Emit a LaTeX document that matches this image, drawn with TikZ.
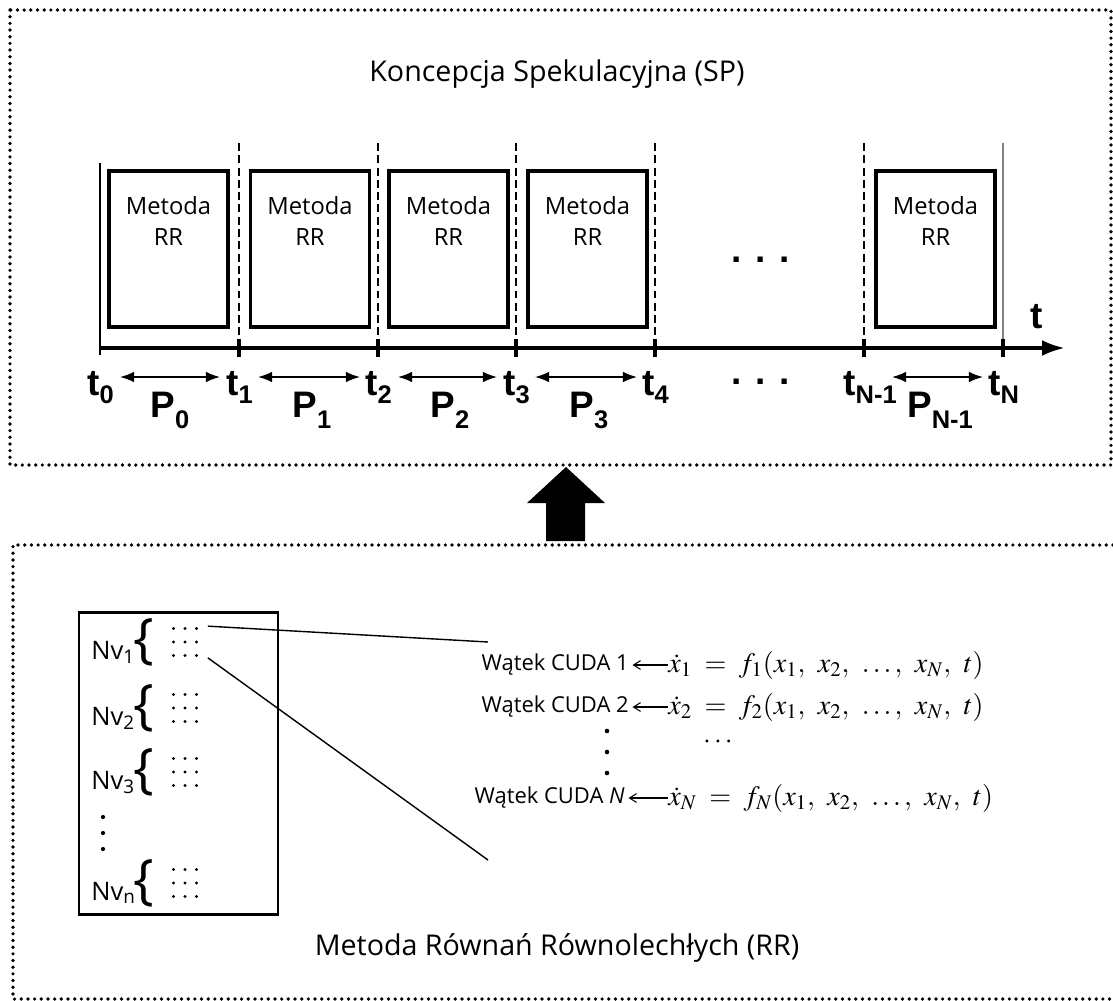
\documentclass[tikz,border=0pt]{standalone}
\usepackage{mathptmx}
\usepackage[no-math]{fontspec}
\setmainfont{Open Sans}
\newfontfamily\boldlab{Liberation Sans}
\usetikzlibrary{arrows.meta,positioning}

\newcommand{\tlab}[1]{t\raisebox{-4.7pt}{\fontsize{14.5}{14.5}\selectfont #1}}
\newcommand{\plab}[1]{P\raisebox{-6.6pt}{\fontsize{14.5}{14.5}\selectfont #1}}
\newcommand{\csep}{,\mskip 6mu}

\tikzset{
  frame/.style = {line width=2.1pt, line cap=round, dash pattern=on 0pt off 3.8pt},
  rrbox/.style = {draw, line width=2.2pt, minimum width=2.38cm, minimum height=3.12cm, inner sep=0pt},
  rrtext/.style = {align=center, font=\fontsize{13.5}{17.6}\selectfont},
  cut/.style = {dash pattern=on 4.5pt off 2.5pt, line width=0.9pt},
  tick/.style = {line width=2.2pt},
  tnode/.style = {anchor=base west, inner sep=0pt, font=\boldlab\bfseries\fontsize{21}{21}\selectfont},
  pnode/.style = {anchor=base, inner sep=0pt, font=\boldlab\bfseries\fontsize{21}{21}\selectfont},
  span/.style = {{Latex[length=8pt,width=6pt]}-{Latex[length=8pt,width=6pt]}, line width=0.9pt},
  title/.style = {font=\fontsize{16.3}{18}\selectfont},
  nvtext/.style = {anchor=base west, inner sep=0pt, font=\fontsize{14.5}{16}\selectfont},
  brace/.style = {inner sep=0pt, font=\fontsize{31}{31}\selectfont},
  grid/.style = {minimum width=0.7cm, minimum height=0.62cm, inner sep=0pt},
  cuda/.style = {anchor=east, inner sep=0pt, font=\fontsize{12.5}{14}\selectfont},
  eq/.style = {anchor=west, inner sep=0pt, font=\fontsize{16}{18}\selectfont},
  thread/.style = {-{Straight Barb[length=4pt,width=5pt]}, line width=0.6pt},
}

\begin{document}
\begin{tikzpicture}[x=0.02cm, y=-0.02cm]
  \useasboundingbox (0,0) rectangle (1113,1001);

  % ramka SP
  \draw[frame] (10,10) rectangle (1111,465);
  \node[title] (sp) at (557,74) {Koncepcja Spekulacyjna (SP)};

  % bloki metody RR
  \foreach \i/\x in {0/168.5, 1/310, 2/448.5, 3/587.5, 4/935.5} {
    \node[rrbox] (m\i) at (\x,249) {};
    \node[rrtext, below=0.42cm of m\i.north] {Metoda\\RR};
  }

  % linie podzialu
  \foreach \x in {239, 378, 516, 655, 864} {
    \draw[cut] (\x,143) -- (\x,345);
    \draw[tick] (\x,339) -- (\x,357);
  }
  \draw[line width=1.4pt] (100,163) -- (100,355);
  \draw[gray, line width=0.8pt] (1003,143) -- (1003,355);
  \draw[tick] (1003,339) -- (1003,357);

  % os czasu
  \coordinate (a0) at (100,348);
  \coordinate (a1) at (1065,348);
  \draw[line width=2.2pt, -{Latex[length=13pt,width=9pt]}] (a0) -- (a1);
  \node[tnode] (tt) at (1030,328) {t};

  \node[tnode] (t0) at (87,395) {\tlab{0}};
  \node[tnode] (t1) at (226,395) {\tlab{1}};
  \node[tnode] (t2) at (365,395) {\tlab{2}};
  \node[tnode] (t3) at (503,395) {\tlab{3}};
  \node[tnode] (t4) at (642,395) {\tlab{4}};
  \node[tnode] (tn1) at (843,395) {\tlab{N-1}};
  \node[tnode] (tn) at (988,395) {\tlab{N}};

  \node[tnode, anchor=base] (dots1) at (761,262) {. . .};
  \node[tnode, anchor=base] (dots2) at (761,384) {. . .};

  \draw[span] (120,377) -- (220,377);
  \draw[span] (258,377) -- (360,377);
  \draw[span] (398,377) -- (497,377);
  \draw[span] (535,377) -- (637,377);
  \draw[span] (892,377) -- (983,377);

  \node[pnode] (p0) at (170,417) {\plab{0}};
  \node[pnode] (p1) at (312,417) {\plab{1}};
  \node[pnode] (p2) at (450,417) {\plab{2}};
  \node[pnode] (p3) at (589,417) {\plab{3}};
  \node[pnode] (pn1) at (940,417) {\plab{N-1}};

  % strzalka
  \fill (527,503) -- (566,467) -- (605,503) -- (585,503) -- (585,541) -- (546,541) -- (546,503) -- cycle;

  % ramka RR
  \draw[frame] (1113,545) -- (13,545) -- (13,999) -- (1113,999);
  \node[title] (rr) at (557,948) {Metoda Równań Równolechłych (RR)};

  \draw[line width=1.7pt] (79,612) rectangle (278,914);
  \foreach \i/\y in {1/642, 2/708, 3/772, n/883} {
    \node[nvtext] (nv\i) at (91,\y+17) {Nv\textsubscript{\i}};
    \node[brace] (b\i) at (144,\y) {\{};
    \node[grid] (g\i) at (185,\y) {};
    \foreach \r in {-1,0,1}
      \foreach \c in {-1,0,1}
        \fill ([shift={(\c*11.5,\r*13.5)}]g\i.center) circle (0.95pt);
  }
  \foreach \y in {817, 833, 849}
    \fill (103,\y) circle (1.2pt);

  % watki CUDA
  \coordinate (c1) at (488,642);
  \coordinate (c2) at (488,860);
  \draw[line width=0.8pt] ([xshift=0.1cm]g1.north east) -- (c1);
  \draw[line width=0.8pt] ([xshift=0.1cm]g1.south east) -- (c2);

  \node[eq] (e1) at (668,665) {$\dot{x}_1 \;=\; f_1(x_1\csep x_2\csep \ldots\csep x_N\csep t)$};
  \node[eq] (e2) at (668,707) {$\dot{x}_2 \;=\; f_2(x_1\csep x_2\csep \ldots\csep x_N\csep t)$};
  \node[eq] (e3) at (668,798) {$\dot{x}_N \;=\; f_N(x_1\csep x_2\csep \ldots\csep x_N\csep t)$};
  \node[cuda] (w1) at (629,665) {Wątek CUDA 1};
  \node[cuda] (w2) at (629,707) {Wątek CUDA 2};
  \node[cuda] (w3) at (625,798) {Wątek CUDA \textit{N}};
  \draw[thread] (e1.west) -- ([xshift=2pt]w1.east);
  \draw[thread] (e2.west) -- ([xshift=2pt]w2.east);
  \draw[thread] (e3.west) -- ([xshift=2pt]w3.east);

  \foreach \y in {731, 752, 773}
    \fill (607,\y) circle (1.3pt);
  \node[eq, anchor=center] (edots) at (718,742) {$\cdots$};
\end{tikzpicture}
\end{document}
